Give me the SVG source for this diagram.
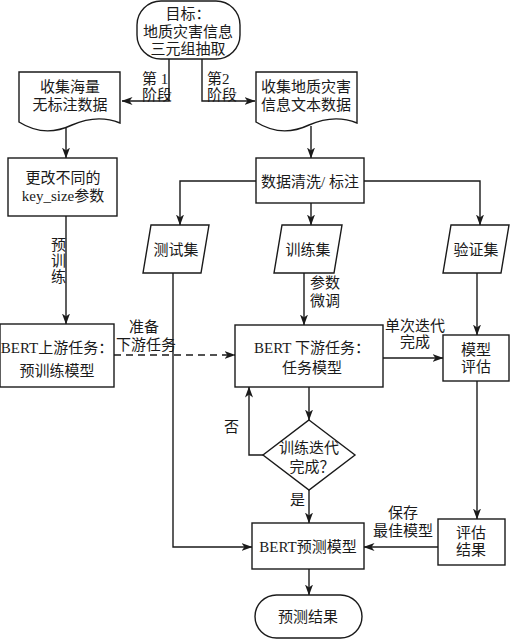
<svg xmlns="http://www.w3.org/2000/svg" width="510" height="641" viewBox="0 0 510 641">
<defs>
<marker id="ah" viewBox="0 0 11 8" refX="10.5" refY="4" markerWidth="11" markerHeight="8" markerUnits="userSpaceOnUse" orient="auto">
<path d="M0,0 L11,4 L0,8 L3,4 z" fill="#1a1a1a"/>
</marker>
</defs>
<style>
.s{fill:#fff;stroke:#1a1a1a;stroke-width:1.4}
.c{fill:none;stroke:#1a1a1a;stroke-width:1.4}
.a{marker-end:url(#ah)}
.d{stroke-dasharray:7,5}
text{font-family:"Liberation Serif","Noto Sans CJK SC",serif;font-size:15px;fill:#1a1a1a}
.m{text-anchor:middle}
</style>
<rect width="510" height="641" fill="#fff"/>
<g id="connectors">
<polyline class="c a" points="169,59 169,101 122,101"/>
<polyline class="c a" points="202,59 202,101 255,101"/>
<line class="c a" x1="66" y1="128" x2="66" y2="158"/>
<line class="c a" x1="311" y1="126" x2="311" y2="158"/>
<polyline class="c a" points="256,181 180,181 180,225"/>
<line class="c a" x1="311" y1="203" x2="311" y2="225"/>
<polyline class="c a" points="364,181 480,181 480,225"/>
<line class="c a" x1="66" y1="216" x2="66" y2="324"/>
<line class="c a" x1="304" y1="273" x2="304" y2="325"/>
<line class="c a" x1="477" y1="273" x2="477" y2="335"/>
<line class="c a d" x1="114" y1="355" x2="235" y2="355"/>
<line class="c a" x1="383" y1="358" x2="443" y2="358"/>
<line class="c a" x1="309" y1="387" x2="309" y2="420"/>
<polyline class="c a" points="263,455 249,455 249,387"/>
<line class="c a" x1="309" y1="490" x2="309" y2="523"/>
<polyline class="c a" points="173,273 173,547 252,547"/>
<line class="c a" x1="477" y1="381" x2="477" y2="519"/>
<line class="c a" x1="438" y1="547" x2="364" y2="547"/>
<line class="c a" x1="309" y1="569" x2="309" y2="595"/>
<text x="142" y="84">第 1</text>
<text x="142" y="100">阶段</text>
<text x="207" y="84">第2</text>
<text x="207" y="100">阶段</text>
<text x="51" y="250">预</text>
<text x="51" y="266">训</text>
<text x="51" y="282">练</text>
<text x="310" y="288">参数</text>
<text x="310" y="306">微调</text>
<text class="m" x="144" y="332">准备</text>
<text class="m" x="146" y="350">下游任务</text>
<text class="m" x="415" y="331">单次迭代</text>
<text class="m" x="415" y="347">完成</text>
<text x="224" y="432">否</text>
<text x="290" y="505">是</text>
<text class="m" x="403" y="518">保存</text>
<text class="m" x="403" y="536">最佳模型</text>
</g>
<g id="goal">
<rect class="s" x="137" y="1" width="103" height="58" rx="24" ry="24"/>
<text class="m" x="188" y="19">目标：</text>
<text class="m" x="188" y="37">地质灾害信息</text>
<text class="m" x="188" y="54">三元组抽取</text>
</g>
<g id="doc1">
<path class="s" d="M19,72 L120,72 L120,123 C105,117 88,118 72,125 C55,133 38,134 19,122 Z"/>
<text class="m" x="70" y="92">收集海量</text>
<text class="m" x="70" y="110">无标注数据</text>
</g>
<g id="doc2">
<path class="s" d="M256,72 L357,72 L357,123 C342,117 325,118 309,125 C292,133 275,134 256,122 Z"/>
<text class="m" x="306" y="92">收集地质灾害</text>
<text class="m" x="306" y="110">信息文本数据</text>
</g>
<g id="keysize">
<rect class="s" x="8" y="158" width="109" height="58"/>
<text class="m" x="63" y="183">更改不同的</text>
<text class="m" x="63" y="201">key_size参数</text>
</g>
<g id="clean">
<rect class="s" x="256" y="158" width="108" height="45"/>
<text class="m" x="310" y="187">数据清洗/ 标注</text>
</g>
<g id="testset">
<polygon class="s" points="151,225 209,225 201,273 143,273"/>
<text class="m" x="176" y="255">测试集</text>
</g>
<g id="trainset">
<polygon class="s" points="282,225 342,225 334,273 274,273"/>
<text class="m" x="308" y="255">训练集</text>
</g>
<g id="valset">
<polygon class="s" points="451,225 509,225 501,273 443,273"/>
<text class="m" x="476" y="255">验证集</text>
</g>
<g id="upstream">
<rect class="s" x="0" y="324" width="114" height="63"/>
<text class="m" x="57" y="353">BERT上游任务：</text>
<text class="m" x="57" y="376">预训练模型</text>
</g>
<g id="downstream">
<rect class="s" x="235" y="325" width="148" height="62"/>
<text class="m" x="312" y="353">BERT 下游任务：</text>
<text class="m" x="312" y="373">任务模型</text>
</g>
<g id="evalmodel">
<rect class="s" x="443" y="335" width="66" height="46"/>
<text class="m" x="476" y="355">模型</text>
<text class="m" x="476" y="372">评估</text>
</g>
<g id="decision">
<polygon class="s" points="309,420 355,455 309,490 263,455"/>
<text class="m" x="309" y="453">训练迭代</text>
<text class="m" x="312" y="472">完成？</text>
</g>
<g id="predict">
<rect class="s" x="252" y="523" width="112" height="46"/>
<text class="m" x="308" y="552">BERT预测模型</text>
</g>
<g id="evalresult">
<rect class="s" x="438" y="519" width="67" height="46"/>
<text class="m" x="471" y="538">评估</text>
<text class="m" x="471" y="555">结果</text>
</g>
<g id="result">
<rect class="s" x="255" y="595" width="107" height="43" rx="21.5" ry="21.5"/>
<text class="m" x="308" y="622">预测结果</text>
</g>
</svg>
